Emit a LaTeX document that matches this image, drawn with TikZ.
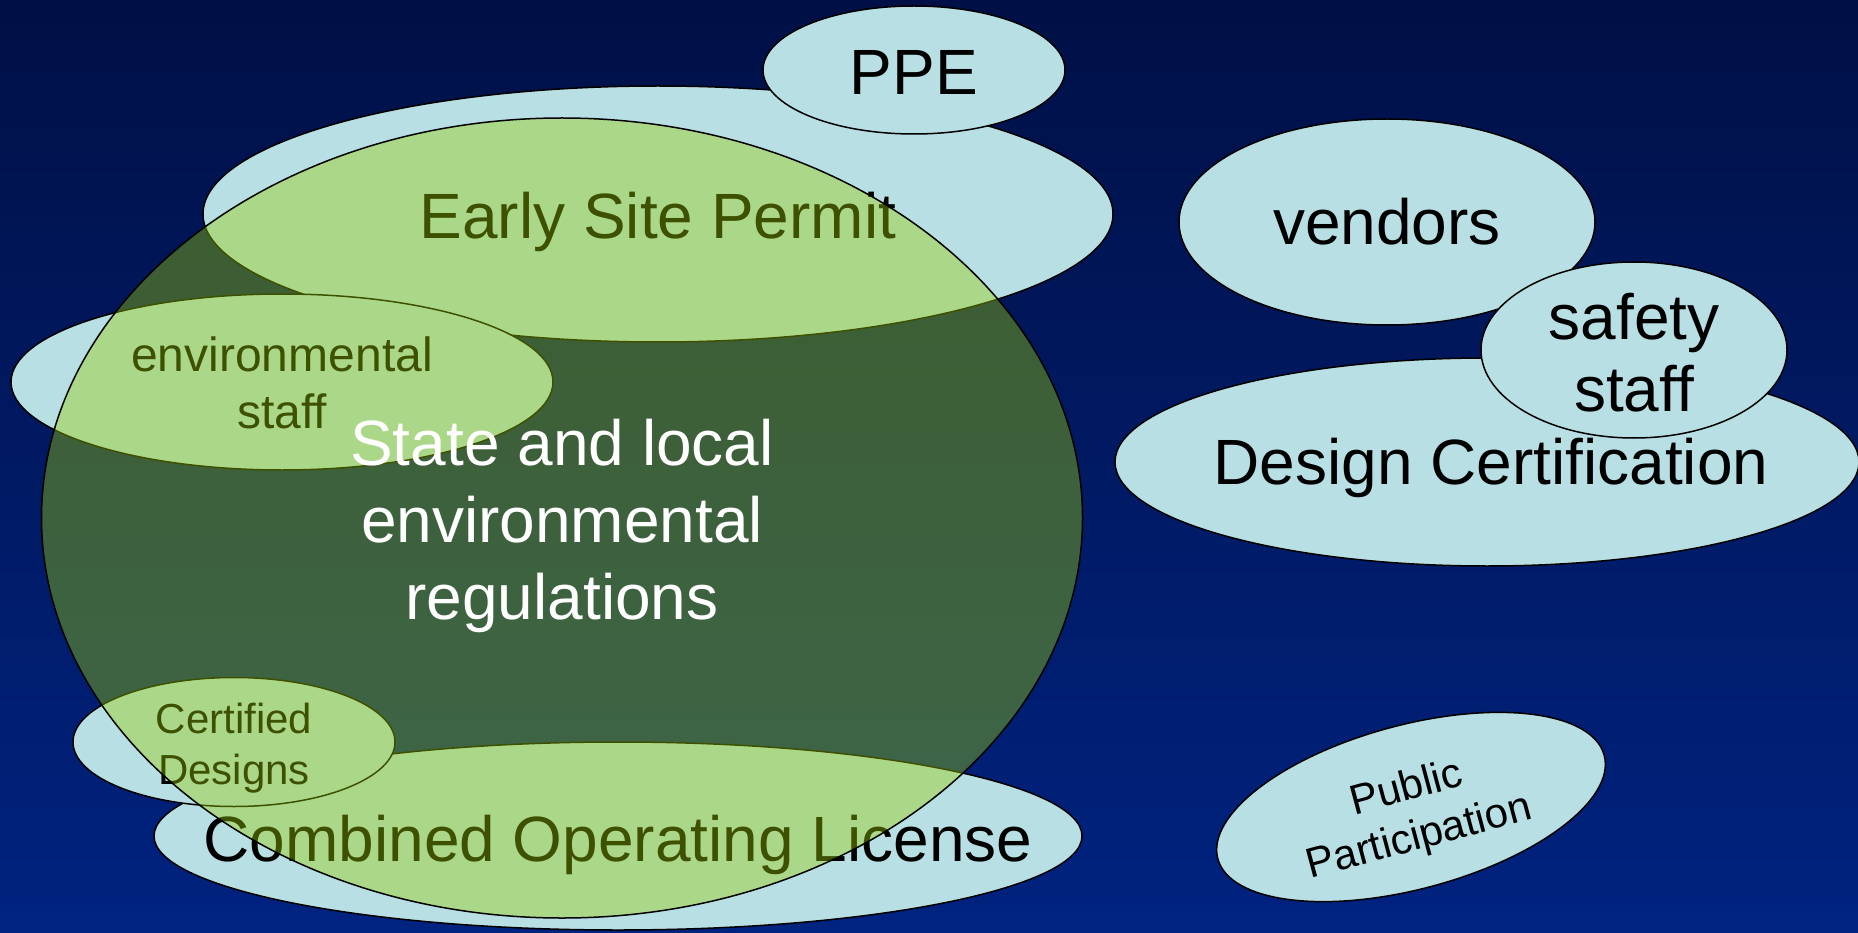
\documentclass[tikz,border=0pt]{standalone}
\usepackage{fontspec}
\setmainfont{Liberation Sans}
\usetikzlibrary{shapes.geometric}
\definecolor{paleblue}{RGB}{184,224,228}
\definecolor{leafgreen}{RGB}{153,204,0}
\definecolor{navytop}{RGB}{0,16,70}
\definecolor{navybottom}{RGB}{0,35,128}
\tikzset{
  blob/.style={ellipse,draw=black,line width=1.5pt,fill=paleblue,inner sep=0pt},
  big/.style={align=center,inner sep=0pt,font=\fontsize{64}{74}\selectfont},
  small/.style={align=center,inner sep=0pt,font=\fontsize{48}{57}\selectfont},
  tiny/.style={align=center,inner sep=0pt,font=\fontsize{42}{51}\selectfont}
}
\begin{document}
\begin{tikzpicture}[x=1pt,y=-1pt]
  \useasboundingbox (0,0) rectangle (1858,933);
  \shade[top color=navytop,bottom color=navybottom] (0,0) rectangle (1858,933);

  % licensing steps
  \path (658,214) node[blob,minimum width=910pt,minimum height=256pt] (esp) {};
  \path ([yshift=-8pt]esp.center) node[big] (esptext) {Early Site Permit};
  \path (914,70) node[blob,minimum width=302pt,minimum height=128pt] (ppe) {};
  \path ([yshift=-2pt]ppe.center) node[big] (ppetext) {PPE};
  \path (282,382) node[blob,minimum width=542pt,minimum height=176pt] (envstaff) {};
  \path ([yshift=-1pt]envstaff.center) node[small] (envtext) {environmental\\staff};
  \path (618,836) node[blob,minimum width=928pt,minimum height=188pt] (col) {};
  \path ([yshift=-9pt]col.center) node[big] (coltext) {Combined Operating License};
  \path (234,742) node[blob,minimum width=322pt,minimum height=129pt] (certified) {};
  \path ([yshift=-6pt]certified.center) node[tiny] (certtext) {Certified\\Designs};

  % right hand side
  \path (1387,222) node[blob,minimum width=416pt,minimum height=206pt] (vendors) {};
  \path (vendors.center) node[big] (vendtext) {vendors};
  \path (1487,462) node[blob,minimum width=744pt,minimum height=208pt] (dc) {};
  \path ([xshift=4pt,yshift=-6pt]dc.center) node[big] (dctext) {Design Certification};
  \path (1634,350) node[blob,minimum width=306pt,minimum height=176pt] (safety) {};
  \path ([yshift=-3pt]safety.center) node[big,font=\fontsize{64}{72}\selectfont] (safetext) {safety\\staff};
  \path (1411,807) node[blob,rotate=15,minimum width=400pt,minimum height=164pt] (public) {};
  \path ([xshift=2pt,yshift=-7pt]public.center) node[tiny,rotate=15,font=\fontsize{42}{50}\selectfont] (pubtext) {Public\\Participation};

  % state overlay
  \path (562,518) node[ellipse,draw=black,line width=1.5pt,fill=leafgreen,fill opacity=0.4,
    inner sep=0pt,minimum width=1041pt,minimum height=800pt] (state) {};
  \path ([yshift=-8pt]state.center) node[big,text=white,font=\fontsize{64}{77}\selectfont] (statetext) {State and local\\environmental\\regulations};
\end{tikzpicture}
\end{document}
